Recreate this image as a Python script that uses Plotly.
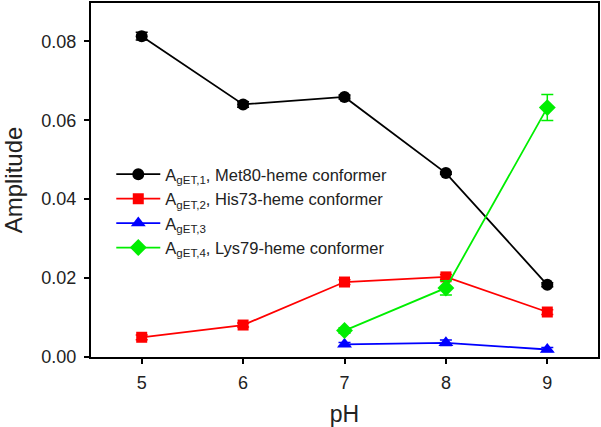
import plotly.graph_objects as go

ph_all = [5, 6, 7, 8, 9]
ph_high = [7, 8, 9]

a1 = [0.0813, 0.0640, 0.0659, 0.0466, 0.0183]
a1_err = [0.0010, 0.0007, 0.0005, 0.0003, 0.0005]
a2 = [0.0050, 0.0081, 0.0190, 0.0203, 0.0114]
a2_err = [0.0006, 0.0005, 0.0006, 0.0006, 0.0006]
a3 = [0.0032, 0.0036, 0.0019]
a3_err = [0.0005, 0.0007, 0.0005]
a4 = [0.0067, 0.0175, 0.0632]
a4_err = [0.0007, 0.0018, 0.0033]

names = [
    "A<sub>gET,1</sub>, Met80-heme conformer",
    "A<sub>gET,2</sub>, His73-heme conformer",
    "A<sub>gET,3</sub>",
    "A<sub>gET,4</sub>, Lys79-heme conformer",
]

fig = go.Figure()
series = [
    (ph_all, a1, a1_err, "#000000", "circle", names[0], 12),
    (ph_all, a2, a2_err, "#ff0000", "square", names[1], 11),
    (ph_high, a3, a3_err, "#0000ff", "triangle-up", names[2], 13),
    (ph_high, a4, a4_err, "#00ee00", "diamond", names[3], 13),
]
for x, y, e, c, sym, nm, sz in series:
    fig.add_trace(go.Scatter(
        x=x, y=y, name=nm, mode="lines+markers",
        line=dict(color=c, width=1.8),
        marker=dict(color=c, symbol=sym, size=sz),
        error_y=dict(type="data", array=e, color=c, thickness=1.5, width=6),
    ))

font = "Liberation Sans, Arial, sans-serif"
fig.update_layout(
    width=601, height=427,
    margin=dict(l=91, r=3, t=3, b=70),
    paper_bgcolor="white", plot_bgcolor="white",
    font=dict(family=font, size=17, color="#222"),
    showlegend=True,
    legend=dict(x=0.04, y=0.565, xanchor="left", yanchor="top",
                bgcolor="rgba(0,0,0,0)", font=dict(size=16.5, family=font, color="#222"),
                itemwidth=44, tracegroupgap=0),
    xaxis=dict(range=[4.5, 9.5], tickvals=ph_all, ticks="outside", ticklen=5, tickwidth=1.5,
               tickcolor="#000", showline=True, linecolor="#000", linewidth=2, mirror=True,
               showgrid=False, zeroline=False, tickfont=dict(size=18), automargin=False,
               ticklabelstandoff=3,
               title=dict(text="pH", font=dict(size=23))),
    yaxis=dict(range=[0, 0.0897], tickvals=[0, 0.02, 0.04, 0.06, 0.08],
               ticktext=["0.00", "0.02", "0.04", "0.06", "0.08"],
               ticks="outside", ticklen=5, tickwidth=1.5, tickcolor="#000",
               showline=True, linecolor="#000", linewidth=2, mirror=True,
               showgrid=False, zeroline=False, tickfont=dict(size=18), automargin=False,
               ticklabelstandoff=4,
               title=dict(text="Amplitude", font=dict(size=24))),
)
fig.write_html("out.html", config={"displayModeBar": False},
               post_script="document.body.style.margin='0px';")
